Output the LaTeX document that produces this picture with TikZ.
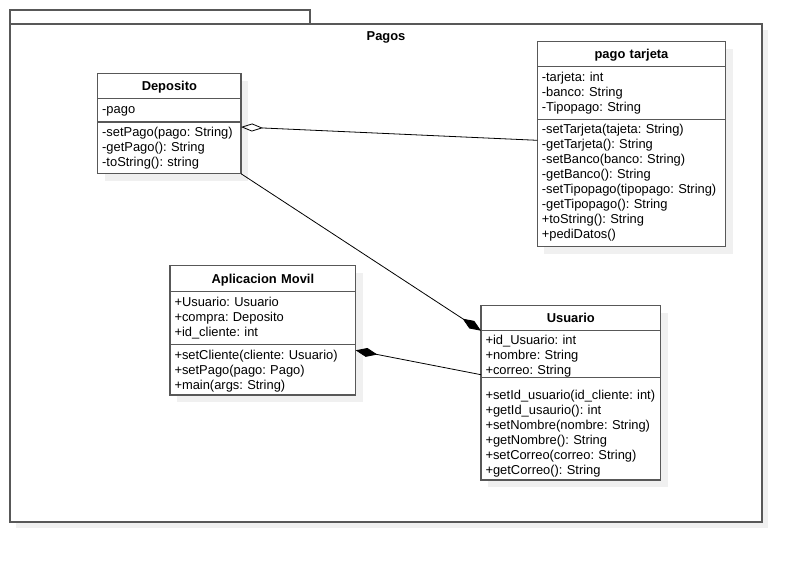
\documentclass[tikz,border=0pt]{standalone}
\usepackage{fontspec}
\setmainfont{Liberation Sans}
\frenchspacing
\usetikzlibrary{arrows.meta,positioning,shadows}
\definecolor{umlgray}{RGB}{88,88,88}

\begin{document}
\begin{tikzpicture}[x=1pt,y=-1pt,
    cls/.style={draw=umlgray, line width=1.3pt, fill=white, outer sep=0pt, inner xsep=4.5pt, inner ysep=1pt,
        text width=#1, align=left, font=\fontsize{12.9}{15}\selectfont,
        drop shadow={shadow xshift=7pt, shadow yshift=-7pt, fill=black!6, opacity=1}},
    clsname/.style={cls=#1, text depth=0pt, align=center, font=\fontsize{12.9}{15}\selectfont\bfseries},
    pkg/.style={draw=umlgray, line width=1.3pt, fill=white},
    link/.style={draw=black, line width=0.8pt}]
            \useasboundingbox (0,0) rectangle (802,562);

            % package
            \fill[black!6] (16,30) rectangle (768,528);
            \draw[pkg] (10,10) rectangle (310,24);
            \draw[pkg] (10,24) rectangle (762,522);
            \node[font=\fontsize{12.9}{15}\selectfont\bfseries] (pagos) at (386,37) {Pagos};

            % Deposito
            \node[clsname=134.3pt, minimum height=25pt, anchor=north west] (dep) at (97.7,73.7) {Deposito};
            \node[cls=134.3pt, text depth=0pt, minimum height=23.3pt, below=0pt of dep] (dep-a) {-pago};
            \node[cls=134.3pt, minimum height=51.7pt, below=0pt of dep-a] (dep-m) {-setPago(pago: String)\\-getPago(): String\\-toString(): string};

            % pago tarjeta
            \node[clsname=179.4pt, minimum height=25pt, anchor=north west] (tar) at (537.3,41.7) {pago tarjeta};
            \node[cls=179.4pt, minimum height=52.6pt, below=0pt of tar] (tar-a) {-tarjeta: int\\-banco: String\\-Tipopago: String};
            \node[cls=179.4pt, minimum height=127.4pt, below=0pt of tar-a] (tar-m) {-setTarjeta(tajeta: String)\\-getTarjeta(): String\\-setBanco(banco: String)\\-getBanco(): String\\-setTipopago(tipopago: String)\\-getTipopago(): String\\+toString(): String\\+pediDatos()};

            % Aplicacion Movil
            \node[clsname=176.7pt, minimum height=26pt, anchor=north west] (app) at (170,265.7) {Aplicacion Movil};
            \node[cls=176.7pt, minimum height=52.6pt, below=0pt of app] (app-a) {+Usuario: Usuario\\+compra: Deposito\\+id\_cliente: int};
            \node[cls=176.7pt, text height=12.4pt, minimum height=50.7pt, below=0pt of app-a] (app-m) {+setCliente(cliente: Usuario)\\+setPago(pago: Pago)\\+main(args: String)};

            % Usuario
            \node[clsname=170.7pt, minimum height=25pt, anchor=north west] (usu) at (481,305.7) {Usuario};
            \node[cls=170.7pt, inner ysep=0pt, text height=14pt, minimum height=47pt, below=0pt of usu] (usu-a) {+id\_Usuario: int\\+nombre: String\\+correo: String};
            \node[cls=170.7pt, text height=19pt, minimum height=102.3pt, below=0pt of usu-a] (usu-m) {+setId\_usuario(id\_cliente: int)\\+getId\_usaurio(): int\\+setNombre(nombre: String)\\+getNombre(): String\\+setCorreo(correo: String)\\+getCorreo(): String};

            % links
            \draw[link, {Diamond[open, length=22pt, width=8pt]}-] ([yshift=-5pt]dep-m.north east) -- ([yshift=-21pt]tar-m.north west);
            \draw[link, -{Diamond[length=22pt, width=9pt]}] (dep-m.south east) -- (usu-a.north west);
            \draw[link, {Diamond[length=22pt, width=9pt]}-] ([yshift=-6pt]app-m.north east) -- ([yshift=3pt]usu-a.south west);
        \end{tikzpicture}
\end{document}
